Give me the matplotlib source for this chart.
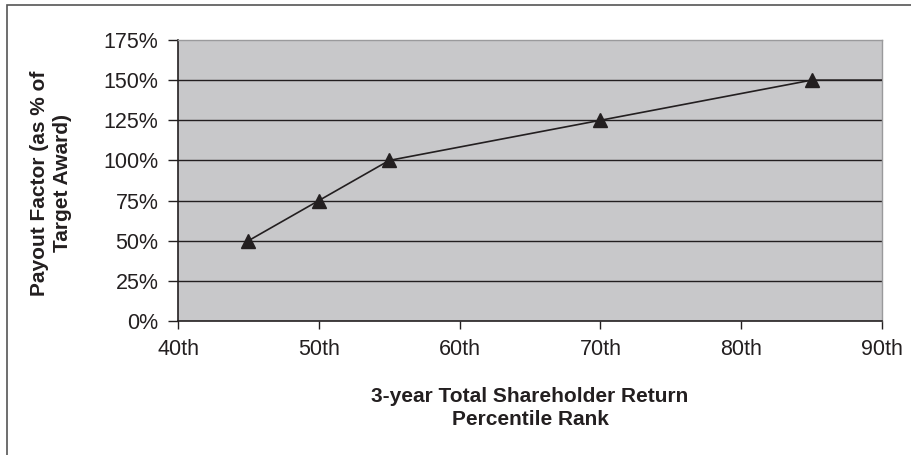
import matplotlib
matplotlib.use("Agg")
import matplotlib.pyplot as plt
from matplotlib.patches import Rectangle

# Data
percentile = [45, 50, 55, 70, 85, 90]
payout = [50, 75, 100, 125, 150, 150]
marker_mask = [True, True, True, True, True, False]
x_ticks = [40, 50, 60, 70, 80, 90]
x_tick_labels = ["40th", "50th", "60th", "70th", "80th", "90th"]
y_ticks = [0, 25, 50, 75, 100, 125, 150, 175]
y_tick_labels = ["0%", "25%", "50%", "75%", "100%", "125%", "150%", "175%"]

plt.rcParams['font.family'] = ['Liberation Sans', 'DejaVu Sans']
ink = "#231f20"

W, H = 912, 455
fig = plt.figure(figsize=(W/100, H/100), dpi=100)
fig.patch.set_facecolor("white")

# figure border (left and top visible)
fig.patches.append(Rectangle((7/W, -0.05), 1.2, 1 - 5/H + 0.05, transform=fig.transFigure,
                             fill=False, edgecolor="#555555", linewidth=1.2))

left, right, top, bottom = 178, 882, 40, 321
ax = fig.add_axes([left/W, 1 - bottom/H, (right-left)/W, (bottom-top)/H])
ax.set_facecolor("#c8c8ca")
ax.set_xlim(40, 90)
ax.set_ylim(0, 175)

for y in y_ticks[1:-1]:
    ax.axhline(y, color=ink, linewidth=1.0, zorder=1)

ax.plot(percentile, payout, color=ink, linewidth=1.2, zorder=3)
mx = [p for p, m in zip(percentile, marker_mask) if m]
my = [v for v, m in zip(payout, marker_mask) if m]
ax.plot(mx, my, linestyle="none", marker="^", markersize=10.5, color=ink, zorder=4)

ax.set_xticks(x_ticks)
ax.set_xticklabels(x_tick_labels)
ax.set_yticks(y_ticks)
ax.set_yticklabels(y_tick_labels)
ax.tick_params(axis="both", direction="out", width=1, color=ink,
               labelsize=15.5, labelcolor=ink)
ax.tick_params(axis="x", length=6, pad=7)
ax.tick_params(axis="y", length=7, pad=7)

for s in ["left", "bottom"]:
    ax.spines[s].set_color(ink)
    ax.spines[s].set_linewidth(1.2)
for s in ["top", "right"]:
    ax.spines[s].set_color("#9a9a9c")
    ax.spines[s].set_linewidth(1.0)

fig.text(530/W, 1 - 408/H, "3-year Total Shareholder Return\nPercentile Rank",
         ha="center", va="center", fontsize=15, fontweight="bold", color=ink,
         linespacing=1.32)
fig.text(51/W, 1 - 183/H, "Payout Factor (as % of\nTarget Award)",
         ha="center", va="center", rotation=90, fontsize=15, fontweight="bold",
         color=ink, linespacing=1.32)

fig.savefig("out.png", dpi=100)
